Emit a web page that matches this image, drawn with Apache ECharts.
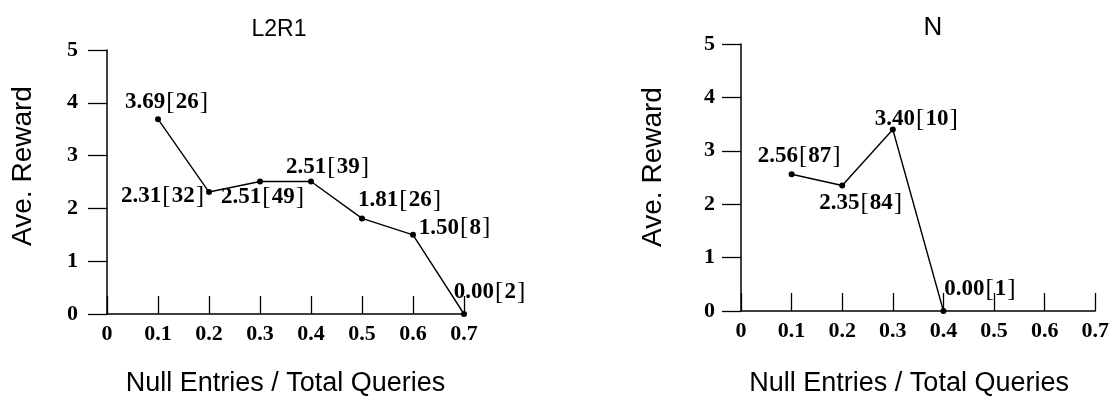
<!DOCTYPE html>
<html>
<head>
<meta charset="utf-8">
<script src="https://cdn.jsdelivr.net/npm/echarts@6/dist/echarts.min.js"></script>
<style>
  html, body { margin: 0; padding: 0; background: #fff; }
  #chart { width: 1112px; height: 402px; }
</style>
</head>
<body>
<div id="chart"></div>
<script>
// ---- data ----
const xL2R1 = [0.1, 0.2, 0.3, 0.4, 0.5, 0.6, 0.7];
const rewardL2R1 = [3.69, 2.31, 2.51, 2.51, 1.81, 1.50, 0.00];
const countL2R1 = [26, 32, 49, 39, 26, 8, 2];

const xN = [0.1, 0.2, 0.3, 0.4];
const rewardN = [2.56, 2.35, 3.40, 0.00];
const countN = [87, 84, 10, 1];

const titles = ['L2R1', 'N'];
const yAxisName = 'Ave. Reward';
const xAxisName = 'Null Entries / Total Queries';

// ---- styles (label offsets relative to each point) ----
const offL2R1 = [[9, -17], [-46, 4], [3, 16], [17, -14], [38, -18], [42, -7], [26, -22]];
const offN = [[8, -18], [19, 18], [24, -10], [37, -22]];

const serif = "'Liberation Serif', 'DejaVu Serif', serif";
const sans = "'Liberation Sans', Arial, sans-serif";

function seriesData(xs, ys, cs, offs) {
  return xs.map((x, i) => ({
    value: [x, ys[i]],
    label: { offset: offs[i], formatter: '{n|' + ys[i].toFixed(2) + '}{b|[}{n|' + cs[i] + '}{b|]}' }
  }));
}

function xAxisCfg(gridIndex, nameGap, namePad) {
  return {
    type: 'value', gridIndex, min: 0, max: 0.7, interval: 0.1,
    name: xAxisName, nameLocation: 'middle', nameGap,
    nameTextStyle: { fontFamily: sans, fontSize: 27, color: '#000', padding: namePad },
    axisLine: { show: true, onZero: false, lineStyle: { color: '#000', width: 1.5 } },
    axisTick: { show: true, inside: true, length: 18, lineStyle: { color: '#000', width: 1.3 } },
    axisLabel: {
      margin: 9, fontFamily: serif, fontWeight: 'bold', fontSize: 22, color: '#000',
      formatter: v => (v === 0 ? '0' : v.toFixed(1))
    },
    splitLine: { show: false }
  };
}

function yAxisCfg(gridIndex, nameGap, namePad, labelMargin) {
  return {
    type: 'value', gridIndex, min: 0, max: 5, interval: 1,
    name: yAxisName, nameLocation: 'middle', nameGap,
    nameTextStyle: { fontFamily: sans, fontSize: 28, color: '#000', padding: namePad },
    axisLine: { show: true, lineStyle: { color: '#000', width: 1.5 } },
    axisTick: { show: true, inside: false, length: 19, lineStyle: { color: '#000', width: 1.3 } },
    axisLabel: { margin: labelMargin, fontFamily: serif, fontWeight: 'bold', fontSize: 22, color: '#000' },
    splitLine: { show: false }
  };
}

function lineSeries(idx, data) {
  return {
    type: 'line', xAxisIndex: idx, yAxisIndex: idx, data,
    symbol: 'circle', symbolSize: 6,
    itemStyle: { color: '#000' },
    lineStyle: { color: '#000', width: 1.4 },
    label: {
      show: true, position: 'inside', align: 'center', verticalAlign: 'middle',
      color: '#000',
      rich: {
        n: { fontFamily: serif, fontWeight: 'bold', fontSize: 23, color: '#000' },
        b: { fontFamily: serif, fontWeight: 'normal', fontSize: 25, color: '#000', padding: [0, 1, 0, 1] }
      }
    },
    animation: false
  };
}

const chart = echarts.init(document.getElementById('chart'), null, { renderer: 'canvas' });
chart.setOption({
  backgroundColor: '#fff',
  animation: false,
  title: [
    { text: titles[0], left: 279, top: 18, textAlign: 'center', padding: 0,
      textStyle: { fontFamily: sans, fontSize: 23, fontWeight: 'normal', color: '#000' } },
    { text: titles[1], left: 933, top: 15, textAlign: 'center', padding: 0,
      textStyle: { fontFamily: sans, fontSize: 26, fontWeight: 'normal', color: '#000' } }
  ],
  grid: [
    { left: 107, right: 648, top: 50, bottom: 86 },
    { left: 741, right: 14, top: 44, bottom: 90 }
  ],
  xAxis: [xAxisCfg(0, 56, 0), xAxisCfg(1, 59, [0, 18, 0, 0])],
  yAxis: [yAxisCfg(0, 70, [0, 0, 0, 32], 29), yAxisCfg(1, 74, [0, 0, 0, 21], 26)],
  series: [
    lineSeries(0, seriesData(xL2R1, rewardL2R1, countL2R1, offL2R1)),
    lineSeries(1, seriesData(xN, rewardN, countN, offN))
  ]
});
</script>
</body>
</html>
